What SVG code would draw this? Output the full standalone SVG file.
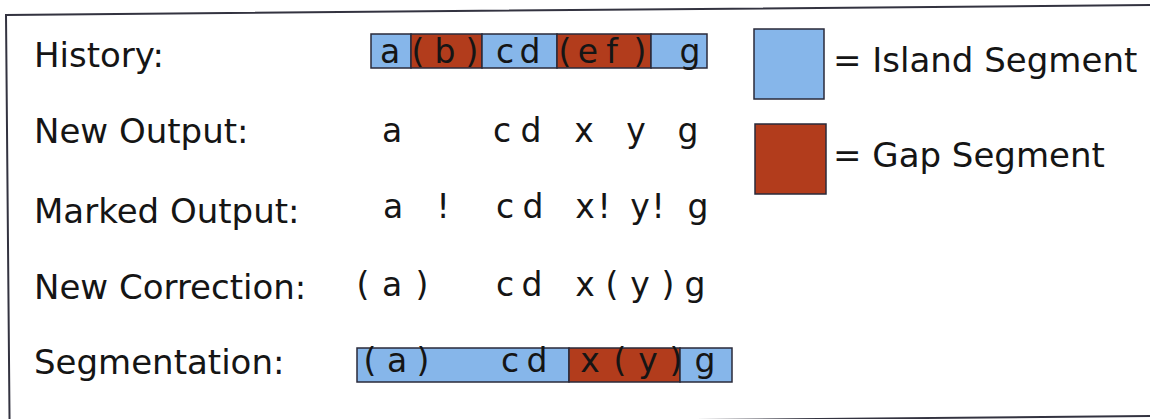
<svg xmlns="http://www.w3.org/2000/svg" width="1150" height="419" viewBox="0 0 1150 419">
<style>
text{font-family:"DejaVu Sans","Noto Sans",sans-serif;fill:#151515}
.lbl{font-size:34px}
.seq{font-size:33px;text-anchor:middle}
.isl{fill:#86b6ea;stroke:#2a2a3a;stroke-width:1.5}
.gap{fill:#b23c1c;stroke:#2a2a3a;stroke-width:1.5}
</style>
<rect x="0" y="0" width="1150" height="419" fill="#ffffff"/>
<rect id="frame" x="6" y="15" width="1170" height="411" fill="none" stroke="#333340" stroke-width="2" transform="rotate(-0.5 6 15)"/>
<g id="labels" class="lbl">
<text x="34" y="67">History:</text>
<text x="34" y="143">New Output:</text>
<text x="34" y="223">Marked Output:</text>
<text x="34" y="299">New Correction:</text>
<text x="34" y="374">Segmentation:</text>
</g>
<g id="history">
<rect class="isl" x="371" y="34" width="40" height="34"/>
<rect class="gap" x="411" y="34" width="71" height="34"/>
<rect class="isl" x="482" y="34" width="75" height="34"/>
<rect class="gap" x="557" y="34" width="94" height="34"/>
<rect class="isl" x="651" y="34" width="56" height="34"/>
<g class="seq">
<text x="390" y="63">a</text><text x="418" y="63">(</text><text x="445" y="63">b</text><text x="472" y="63">)</text>
<text x="505" y="63">c</text><text x="530" y="63">d</text>
<text x="565" y="63">(</text><text x="588" y="63">e</text><text x="612" y="63">f</text><text x="640" y="63">)</text>
<text x="690" y="63">g</text>
</g>
</g>
<g id="new-output" class="seq">
<text x="392" y="142">a</text><text x="502" y="142">c</text><text x="531" y="142">d</text>
<text x="584" y="142">x</text><text x="636" y="142">y</text><text x="688" y="142">g</text>
</g>
<g id="marked-output" class="seq">
<text x="393" y="218">a</text><text x="443" y="218">!</text>
<text x="505" y="218">c</text><text x="533" y="218">d</text>
<text x="585" y="218">x</text><text x="604" y="218">!</text>
<text x="640" y="218">y</text><text x="658" y="218">!</text>
<text x="698" y="218">g</text>
</g>
<g id="new-correction" class="seq">
<text x="363" y="296">(</text><text x="392" y="296">a</text><text x="422" y="296">)</text>
<text x="505" y="296">c</text><text x="532" y="296">d</text>
<text x="585" y="296">x</text><text x="612" y="296">(</text><text x="640" y="296">y</text><text x="668" y="296">)</text>
<text x="695" y="296">g</text>
</g>
<g id="segmentation">
<rect class="isl" x="357" y="348" width="212" height="34"/>
<rect class="gap" x="569" y="348" width="111" height="34"/>
<rect class="isl" x="680" y="348" width="52" height="34"/>
<g class="seq">
<text x="370" y="372">(</text><text x="397" y="372">a</text><text x="423" y="372">)</text>
<text x="510" y="372">c</text><text x="537" y="372">d</text>
<text x="590" y="372">x</text><text x="620" y="372">(</text><text x="648" y="372">y</text><text x="676" y="372">)</text>
<text x="705" y="372">g</text>
</g>
</g>
<g id="legend-island">
<rect class="isl" x="754" y="29" width="70" height="70"/>
<text class="lbl" x="833" y="72">= Island Segment</text>
</g>
<g id="legend-gap">
<rect class="gap" x="755" y="124" width="71" height="70"/>
<text class="lbl" x="833" y="167">= Gap Segment</text>
</g>
</svg>
